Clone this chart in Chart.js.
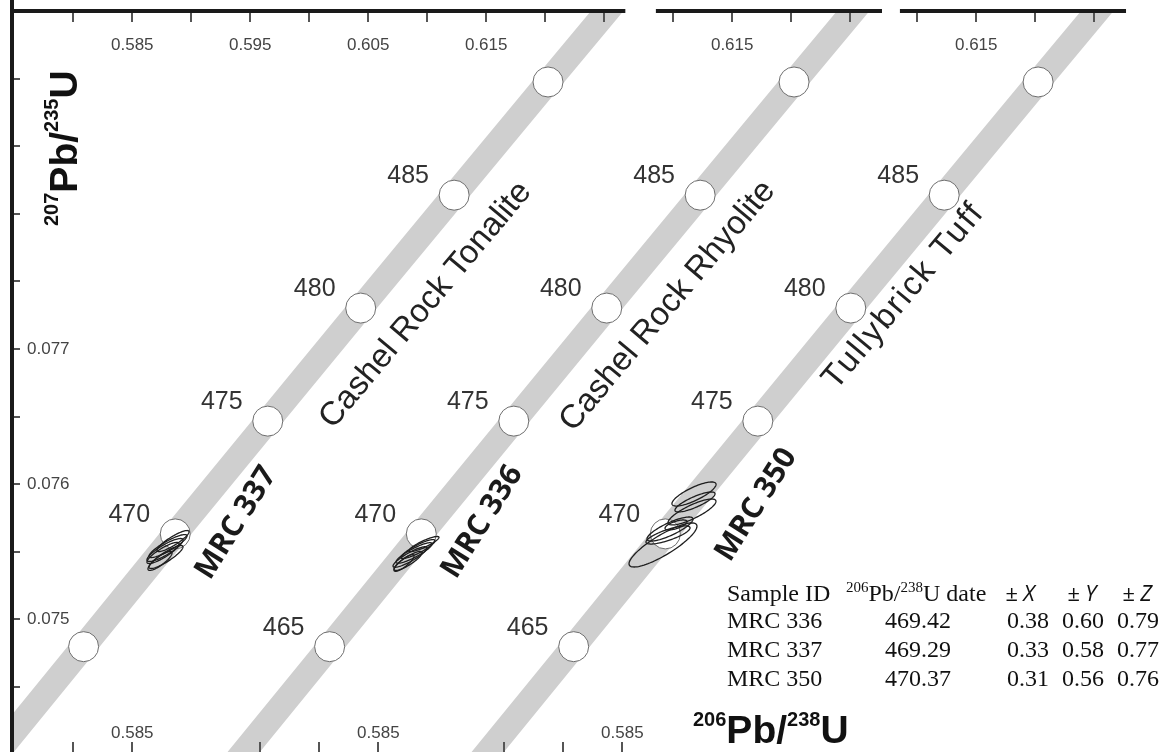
<!DOCTYPE html>
<html>
<head>
<meta charset="utf-8">
<script src="https://cdn.jsdelivr.net/npm/chart.js@4.4.0/dist/chart.umd.min.js"></script>
<style>
  body { margin: 0; background: #fff; overflow: hidden; }
  #wrap { position: relative; width: 1162px; height: 752px; overflow: hidden; }
  #chart { position: absolute; left: -4px; top: -5px; }
</style>
</head>
<body>
<div id="wrap"><canvas id="chart" width="1182" height="773"></canvas></div>
<script>
// concordia band, every 5 Ma (207Pb/235U on x, 206Pb/238U on y)
const bandX = [0.565425, 0.573073, 0.580870, 0.588641, 0.596484, 0.604365, 0.612285, 0.620245, 0.628243, 0.636279];
const bandY = [0.073133, 0.073965, 0.074799, 0.075633, 0.076467, 0.077303, 0.078138, 0.078975, 0.079812, 0.080650];

// age markers (Ma)
const markerAges = [465, 470, 475, 480, 485, 490];
const markerX = [0.580870, 0.588641, 0.596484, 0.604365, 0.612285, 0.620245];
const markerY = [0.074799, 0.075633, 0.076467, 0.077303, 0.078138, 0.078975];
const labelledAges = [[470, 475, 480, 485], [465, 470, 475, 480, 485], [465, 470, 475, 480, 485]];

const panelNames = ['Cashel Rock Tonalite', 'Cashel Rock Rhyolite', 'Tullybrick Tuff'];
const sampleNames = ['MRC 337', 'MRC 336', 'MRC 350'];

// zircon analyses: centre, 2s half-widths, correlation
const mrc337X = [0.588450, 0.588026, 0.587772, 0.587602, 0.587857, 0.587348];
const mrc337Y = [0.075580, 0.075543, 0.075514, 0.075492, 0.075462, 0.075433];
const mrc337Ex = [0.00136, 0.00161, 0.00153, 0.00136, 0.00144, 0.00102];
const mrc337Ey = [0.000078, 0.000085, 0.000085, 0.000078, 0.000085, 0.000070];
const mrc337Rho = [0.88, 0.88, 0.86, 0.86, 0.88, 0.84];

const mrc336X = [0.588870, 0.588361, 0.588022, 0.587683, 0.587514, 0.587175];
const mrc336Y = [0.075558, 0.075521, 0.075492, 0.075462, 0.075433, 0.075418];
const mrc336Ex = [0.00127, 0.00144, 0.00153, 0.00144, 0.00119, 0.00085];
const mrc336Ey = [0.000056, 0.000070, 0.000076, 0.000076, 0.000070, 0.000062];
const mrc336Rho = [0.88, 0.88, 0.88, 0.88, 0.86, 0.84];

const mrc350X = [0.591071, 0.591156, 0.590902, 0.589545, 0.589037, 0.588867, 0.588443];
const mrc350Y = [0.075928, 0.075869, 0.075795, 0.075699, 0.075669, 0.075625, 0.075551];
const mrc350Ex = [0.00187, 0.00170, 0.00203, 0.00093, 0.00195, 0.00187, 0.00288];
const mrc350Ey = [0.000089, 0.000074, 0.000096, 0.000037, 0.000089, 0.000067, 0.000163];
const mrc350Rho = [0.80, 0.82, 0.82, 0.65, 0.82, 0.78, 0.85];

// axis ticks
const topTicks1 = [0.58, 0.585, 0.59, 0.595, 0.6, 0.605, 0.61, 0.615, 0.62, 0.625];
const topLabels1 = [0.585, 0.595, 0.605, 0.615];
const topTicks23 = [0.61, 0.615, 0.62, 0.625];
const topLabels23 = [0.615];
const bottomTicks = [0.575, 0.58, 0.585];
const bottomLabels = [0.585];
const yTicks = [0.0745, 0.075, 0.0755, 0.076, 0.0765, 0.077, 0.0775, 0.078, 0.0785, 0.079];
const yLabels = [0.075, 0.076, 0.077];

// summary table
const tableIds = ['MRC 336', 'MRC 337', 'MRC 350'];
const tableDates = [469.42, 469.29, 470.37];
const tableErrX = [0.38, 0.33, 0.31];
const tableErrY = [0.60, 0.58, 0.56];
const tableErrZ = [0.79, 0.77, 0.76];

const ellipseSets = [
    { x: mrc337X, y: mrc337Y, ex: mrc337Ex, ey: mrc337Ey, rho: mrc337Rho },
    { x: mrc336X, y: mrc336Y, ex: mrc336Ex, ey: mrc336Ey, rho: mrc336Rho },
    { x: mrc350X, y: mrc350Y, ex: mrc350Ex, ey: mrc350Ey, rho: mrc350Rho }
];

const xAxisIds = ['x1', 'x2', 'x3'];
const panelShift = [0, 0.02086, 0.04155];
const xMin = 0.5748, xMax = 0.6723;

const datasets = [];
xAxisIds.forEach((id) => {
    datasets.push({
        type: 'line',
        xAxisID: id,
        data: bandX.map((x, i) => ({ x, y: bandY[i] })),
        borderColor: '#cfcfcf',
        borderWidth: 25,
        borderCapStyle: 'butt',
        pointRadius: 0,
        tension: 0,
        clip: 0,
        order: 3
    });
    datasets.push({
        type: 'scatter',
        xAxisID: id,
        data: markerX.map((x, i) => ({ x, y: markerY[i] })),
        pointRadius: 15,
        pointBackgroundColor: '#fff',
        pointBorderColor: '#6e6e6e',
        pointBorderWidth: 1,
        clip: 0,
        order: 1
    });
});

const SANS = '"Liberation Sans", Arial, sans-serif';
const SERIF = '"Liberation Serif", "Times New Roman", serif';

function drawParts(ctx, parts, x, y) {
    // parts: [text, font, raise]
    parts.forEach(([text, font, raise]) => {
        ctx.font = font;
        ctx.fillText(text, x, y - raise);
        x += ctx.measureText(text).width;
    });
}

const overlay = {
    id: 'overlay',
    afterDatasetsDraw(chart) {
        const ctx = chart.ctx;
        const ys = chart.scales.y;
        const xs = xAxisIds.map(id => chart.scales[id]);
        const area = chart.chartArea;
        ctx.save();

        // error ellipses
        ctx.strokeStyle = '#1e1e1e';
        ctx.lineWidth = 1.3;
        ellipseSets.forEach((set, p) => {
            set.x.forEach((cx, i) => {
                const r = set.rho[i];
                ctx.beginPath();
                for (let k = 0; k <= 90; k++) {
                    const t = k / 90 * Math.PI * 2;
                    const vx = cx + set.ex[i] * Math.cos(t);
                    const vy = set.y[i] + set.ey[i] * (r * Math.cos(t) + Math.sqrt(1 - r * r) * Math.sin(t));
                    const px = xs[p].getPixelForValue(vx), py = ys.getPixelForValue(vy);
                    if (k === 0) ctx.moveTo(px, py); else ctx.lineTo(px, py);
                }
                ctx.closePath();
                ctx.stroke();
            });
        });

        // age labels
        ctx.fillStyle = '#333';
        ctx.font = '25px ' + SANS;
        ctx.textAlign = 'center';
        ctx.textBaseline = 'middle';
        labelledAges.forEach((ages, p) => {
            ages.forEach(age => {
                const i = markerAges.indexOf(age);
                const px = xs[p].getPixelForValue(markerX[i]);
                const py = ys.getPixelForValue(markerY[i]);
                ctx.fillText(String(age), px - 46, py - 19);
            });
        });

        // panel names, next to the 480 marker
        const nameOffset = [[65, -3], [61, -2], [53, -12]];
        const nameSpacing = ['0px', '0px', '2px'];
        const i480 = markerAges.indexOf(480);
        ctx.fillStyle = '#222';
        ctx.font = '33px ' + SANS;
        panelNames.forEach((name, p) => {
            const px = xs[p].getPixelForValue(markerX[i480]) + nameOffset[p][0];
            const py = ys.getPixelForValue(markerY[i480]) + nameOffset[p][1];
            ctx.save();
            ctx.letterSpacing = nameSpacing[p];
            ctx.translate(px, py);
            ctx.rotate(-50 * Math.PI / 180);
            ctx.fillText(name, 0, 0);
            ctx.restore();
        });

        // sample names, next to the 470 marker
        const sampleOffset = [[61, -11], [61, -12], [91, -29]];
        const i470 = markerAges.indexOf(470);
        ctx.font = 'bold 30px "Open Sans", ' + SANS;
        ctx.fillStyle = '#1a1a1a';
        sampleNames.forEach((name, p) => {
            const px = xs[p].getPixelForValue(markerX[i470]) + sampleOffset[p][0];
            const py = ys.getPixelForValue(markerY[i470]) + sampleOffset[p][1];
            ctx.save();
            ctx.translate(px, py);
            ctx.rotate(-58 * Math.PI / 180);
            ctx.fillText(name, 0, 0);
            ctx.restore();
        });

        // axes
        ctx.strokeStyle = '#1a1a1a';
        ctx.lineWidth = 4;
        ctx.beginPath();
        ctx.moveTo(area.left, 0);
        ctx.lineTo(area.left, area.bottom + 20);
        ctx.stroke();

        const topSegments = [[xMin, 0.6268], [0.6087, 0.6277], [0.6087, 0.6277]];
        topSegments.forEach(([a, b], p) => {
            ctx.beginPath();
            ctx.moveTo(xs[p].getPixelForValue(a) - 2, area.top);
            ctx.lineTo(xs[p].getPixelForValue(b), area.top);
            ctx.stroke();
        });

        ctx.strokeStyle = '#555';
        ctx.lineWidth = 2;
        xs.forEach((sc, p) => {
            const ticks = p === 0 ? topTicks1 : topTicks23;
            ticks.forEach(v => {
                const px = Math.round(sc.getPixelForValue(v));
                ctx.beginPath();
                ctx.moveTo(px, area.top + 2);
                ctx.lineTo(px, area.top + 11);
                ctx.stroke();
            });
            bottomTicks.forEach(v => {
                const px = Math.round(sc.getPixelForValue(v));
                if (px <= area.left + 3) return;
                ctx.beginPath();
                ctx.moveTo(px, area.bottom - 10);
                ctx.lineTo(px, area.bottom);
                ctx.stroke();
            });
        });
        yTicks.forEach(v => {
            const py = Math.round(ys.getPixelForValue(v));
            ctx.beginPath();
            ctx.moveTo(area.left + 2, py);
            ctx.lineTo(area.left + 8, py);
            ctx.stroke();
        });

        ctx.fillStyle = '#444';
        ctx.font = '17px ' + SANS;
        ctx.textAlign = 'center';
        xs.forEach((sc, p) => {
            const labels = p === 0 ? topLabels1 : topLabels23;
            labels.forEach(v => ctx.fillText(v.toFixed(3), sc.getPixelForValue(v), area.top + 34));
            bottomLabels.forEach(v => ctx.fillText(v.toFixed(3), sc.getPixelForValue(v), area.bottom - 19));
        });
        ctx.textAlign = 'left';
        yLabels.forEach(v => ctx.fillText(v.toFixed(3), area.left + 15, ys.getPixelForValue(v)));

        // fixed-position text below uses page coordinates (chart area at 12, 11)
        ctx.translate(area.left - 12, area.top - 11);

        // axis titles
        ctx.fillStyle = '#111';
        ctx.textBaseline = 'alphabetic';
        const big = 'bold 39px ' + SANS, sup = 'bold 20px ' + SANS;
        drawParts(ctx, [['206', sup, 17], ['Pb/', big, 0], ['238', sup, 17], ['U', big, 0]], 693, 743);
        ctx.save();
        ctx.translate(77, 226);
        ctx.rotate(-Math.PI / 2);
        drawParts(ctx, [['207', sup, 19], ['Pb/', big, 0], ['235', sup, 19], ['U', big, 0]], 0, 0);
        ctx.restore();

        // summary table
        ctx.fillStyle = '#111';
        const serif = '24px ' + SERIF, serifSup = '15px ' + SERIF;
        ctx.font = serif;
        ctx.fillText('Sample ID', 727, 601);
        drawParts(ctx, [['206', serifSup, 9], ['Pb/', serif, 0], ['238', serifSup, 9], ['U date', serif, 0]], 846, 601);
        ctx.font = 'italic 22px "Open Sans", ' + SANS;
        [['X', 1005], ['Y', 1067], ['Z', 1122]].forEach(([t, x]) => ctx.fillText('\u00b1 ' + t, x, 601));
        ctx.font = serif;
        tableIds.forEach((id, i) => {
            const by = 628 + i * 29;
            ctx.fillText(id, 727, by);
            ctx.fillText(tableDates[i].toFixed(2), 885, by);
            ctx.fillText(tableErrX[i].toFixed(2), 1007, by);
            ctx.fillText(tableErrY[i].toFixed(2), 1062, by);
            ctx.fillText(tableErrZ[i].toFixed(2), 1117, by);
        });

        ctx.restore();
    }
};

const scales = {
    y: { type: 'linear', axis: 'y', display: false, min: 0.07402, max: 0.0795 }
};
xAxisIds.forEach((id, p) => {
    scales[id] = { type: 'linear', axis: 'x', display: false, min: xMin - panelShift[p], max: xMax - panelShift[p] };
});

const chart = new Chart(document.getElementById('chart'), {
    type: 'scatter',
    data: { datasets },
    options: {
        responsive: false,
        animation: false,
        devicePixelRatio: 1,
        events: [],
        plugins: { legend: { display: false }, tooltip: { enabled: false } },
        scales
    },
    plugins: [overlay]
});

// the markers make Chart.js keep a margin round the plot area;
// shift the canvas so the plot area starts at (12, 11) on the page
const canvas = document.getElementById('chart');
canvas.style.left = (12 - chart.chartArea.left) + 'px';
canvas.style.top = (11 - chart.chartArea.top) + 'px';
</script>
</body>
</html>
